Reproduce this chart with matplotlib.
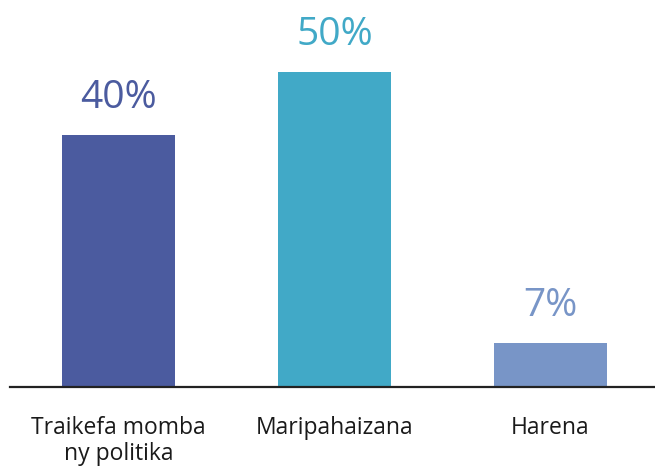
import matplotlib.pyplot as plt

categories = ["Traikefa momba\nny politika", "Maripahaizana", "Harena"]
values = [40, 50, 7]
labels = ["40%", "50%", "7%"]
colors = ["#4b5b9f", "#41a9c7", "#7895c7"]

plt.rcParams['font.family'] = ['Open Sans', 'DejaVu Sans']

fig = plt.figure(figsize=(6.55, 4.67), dpi=100)
ax = fig.add_axes([10 / 655, 80 / 467, 645 / 655, 387 / 467])

x = range(len(values))
ax.bar(x, values, width=0.525, color=colors)
ax.set_xlim(-0.502, 2.484)
ax.set_ylim(0, 61.4)

for i, v in enumerate(values):
    ax.annotate(labels[i], (i, v), xytext=(0, 19), textcoords="offset points",
                ha="center", va="baseline", fontsize=28, color=colors[i])

ax.set_xticks(list(x))
ax.set_xticklabels(categories, fontsize=16.5, color="#1a1a1a", linespacing=1.1)
ax.tick_params(axis="x", length=0, pad=21)
ax.set_yticks([])
for s in ["top", "right", "left"]:
    ax.spines[s].set_visible(False)
ax.spines["bottom"].set_linewidth(1.6)
ax.spines["bottom"].set_color("#222222")

fig.savefig("out.png", dpi=100)
